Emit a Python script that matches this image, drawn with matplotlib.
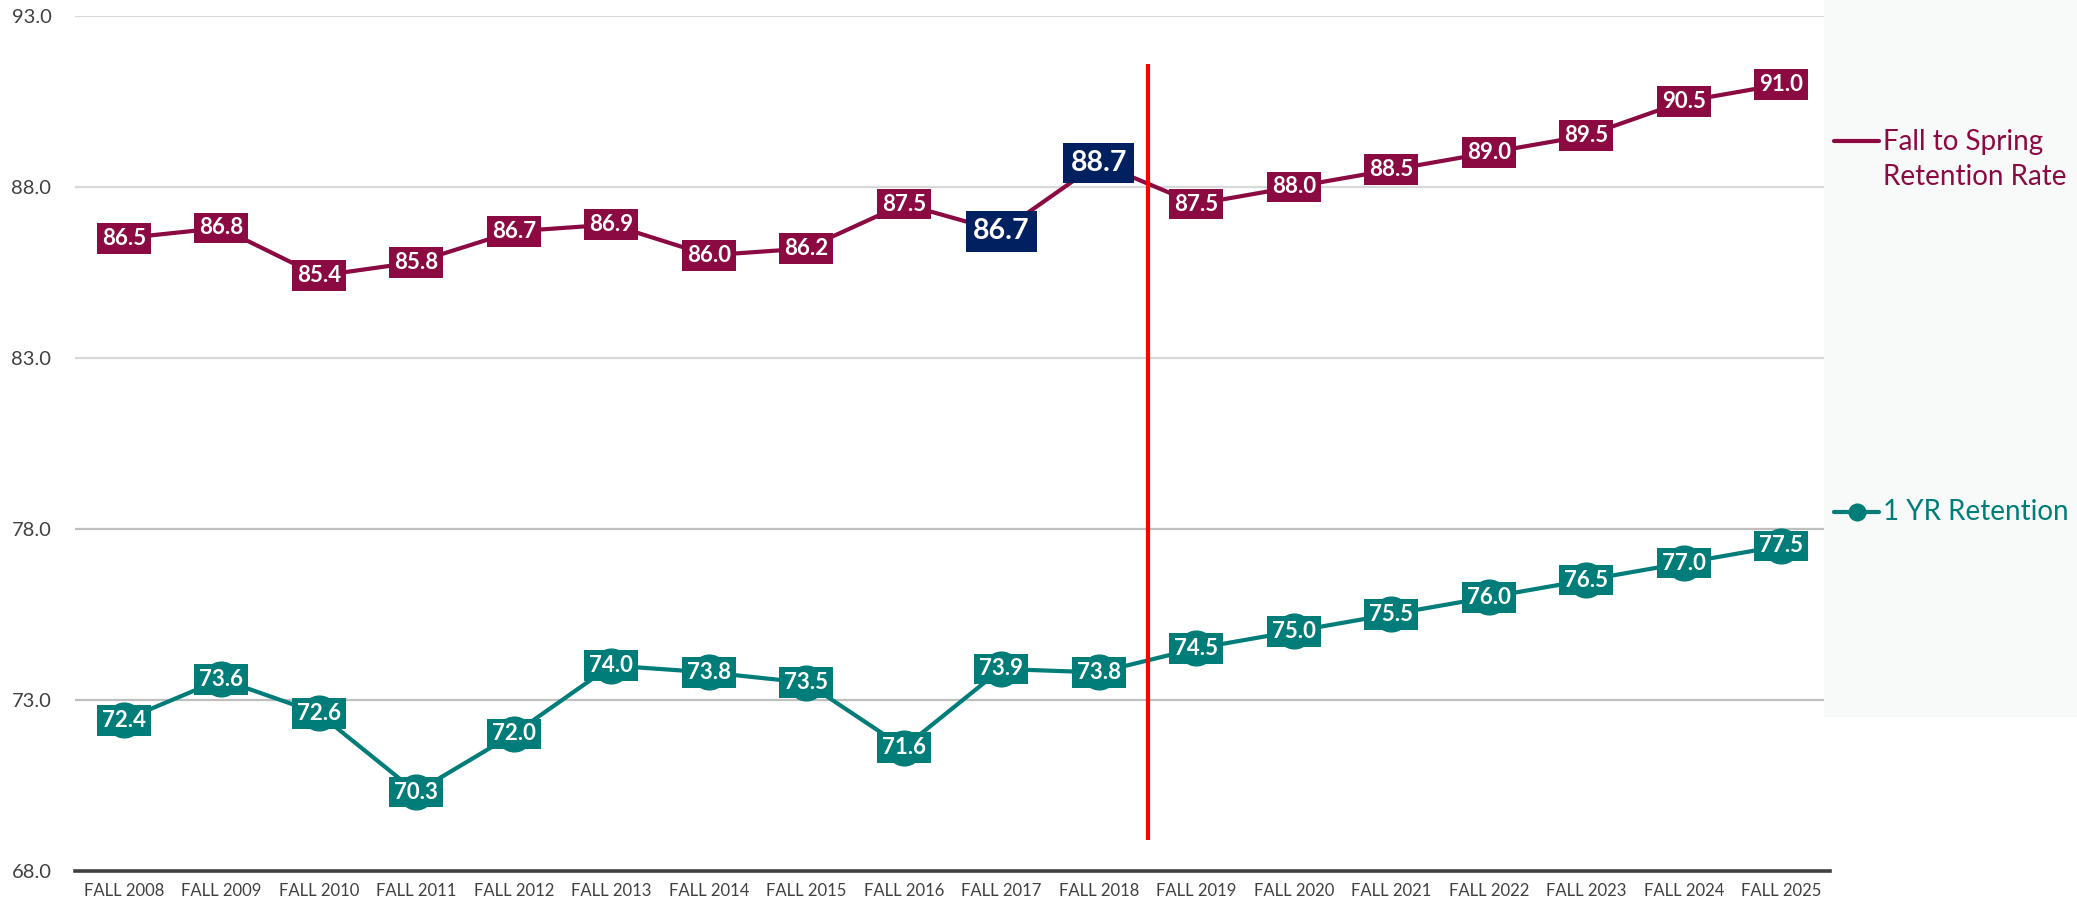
import matplotlib.pyplot as plt
from matplotlib.lines import Line2D
from matplotlib.patches import Rectangle

# dados
anos = ['FALL 2008', 'FALL 2009', 'FALL 2010', 'FALL 2011', 'FALL 2012', 'FALL 2013',
        'FALL 2014', 'FALL 2015', 'FALL 2016', 'FALL 2017', 'FALL 2018', 'FALL 2019',
        'FALL 2020', 'FALL 2021', 'FALL 2022', 'FALL 2023', 'FALL 2024', 'FALL 2025']
fall_spring = [86.5, 86.8, 85.4, 85.8, 86.7, 86.9, 86.0, 86.2, 87.5, 86.7, 88.7,
               87.5, 88.0, 88.5, 89.0, 89.5, 90.5, 91.0]
um_ano = [72.4, 73.6, 72.6, 70.3, 72.0, 74.0, 73.8, 73.5, 71.6, 73.9, 73.8,
          74.5, 75.0, 75.5, 76.0, 76.5, 77.0, 77.5]
destaque = ['FALL 2017', 'FALL 2018']   # rótulos em azul escuro
y_ticks = [68, 73, 78, 83, 88, 93]

VINHO = '#8B0A42'
VERDE = '#007C79'
AZUL = '#002060'
FONTE = 'Lato'

W, H = 2077, 907
fig = plt.figure(figsize=(W / 100, H / 100), dpi=100)
plt.rcParams['font.family'] = [FONTE, 'DejaVu Sans']

def fx(px):
    return px / W

def fy(py):
    return 1 - py / H

# painel cinza da legenda
fig.patches.append(Rectangle((fx(1824), fy(717)), 1 - fx(1824), fy(0) - fy(717),
                             transform=fig.transFigure, facecolor='#F8F9F9',
                             edgecolor='none', zorder=0))

ax = fig.add_axes([fx(75), fy(870.7), fx(1830) - fx(75), fy(16) - fy(870.7)])
ax.set_facecolor('none')
x = list(range(len(anos)))

# linhas de grade
for t in y_ticks[1:]:
    cor = '#BFBFBF' if t <= 78 else '#D9D9D9'
    ax.axhline(t, color=cor, lw=1.6, zorder=1)

ax.plot(x, fall_spring, color=VINHO, lw=3, zorder=2, solid_capstyle='round')
ax.plot(x, um_ano, color=VERDE, lw=3, marker='o', markersize=25, zorder=2)

# linha vermelha entre 2018 e 2019
ax.vlines(10.5, 68.9, 91.6, color='red', lw=3, zorder=3)

for i, (a, v) in enumerate(zip(anos, fall_spring)):
    if a in destaque:
        ax.text(i, v, f'{v:.1f}', ha='center', va='center', fontsize=20.5,
                fontweight='bold', color='white', zorder=5,
                bbox=dict(boxstyle='square,pad=0.26', fc=AZUL, ec='none'))
    else:
        ax.text(i, v, f'{v:.1f}', ha='center', va='center', fontsize=16,
                fontweight='bold', color='white', zorder=5,
                bbox=dict(boxstyle='square,pad=0.22', fc=VINHO, ec='none'))

for i, v in enumerate(um_ano):
    ax.text(i, v, f'{v:.1f}', ha='center', va='center', fontsize=16,
            fontweight='bold', color='white', zorder=5,
            bbox=dict(boxstyle='square,pad=0.22', fc=VERDE, ec='none'))

ax.set_xlim(-0.5, len(anos) - 0.5)
ax.set_ylim(68, 93)
ax.set_xticks(x)
ax.set_xticklabels(anos, fontsize=12, color='#404040')
ax.set_yticks(y_ticks)
ax.set_yticklabels([f'{t:.1f}' for t in y_ticks], fontsize=14.5, color='#404040')
ax.tick_params(axis='y', length=0, pad=17)
ax.tick_params(axis='x', length=0, pad=9)
for s in ['top', 'right', 'left']:
    ax.spines[s].set_visible(False)
ax.spines['bottom'].set_color('#404040')
ax.spines['bottom'].set_linewidth(2.6)
ax.spines['bottom'].set_zorder(4)

# legenda manual
fig.add_artist(Line2D([fx(1834), fx(1879)], [fy(141), fy(141)], color=VINHO, lw=3,
                      solid_capstyle='round', transform=fig.transFigure))
fig.text(fx(1883), fy(129), 'Fall to Spring\nRetention Rate', color=VINHO,
         fontsize=20, va='top', ha='left', linespacing=1.45)
fig.add_artist(Line2D([fx(1834), fx(1879)], [fy(512), fy(512)], color=VERDE, lw=3,
                      solid_capstyle='round', transform=fig.transFigure))
fig.add_artist(Line2D([fx(1857)], [fy(512)], color=VERDE, marker='o', markersize=12,
                      transform=fig.transFigure))
fig.text(fx(1883), fy(512), '1 YR Retention', color=VERDE, fontsize=20,
         va='center', ha='left')

plt.savefig('out.png', dpi=100)
